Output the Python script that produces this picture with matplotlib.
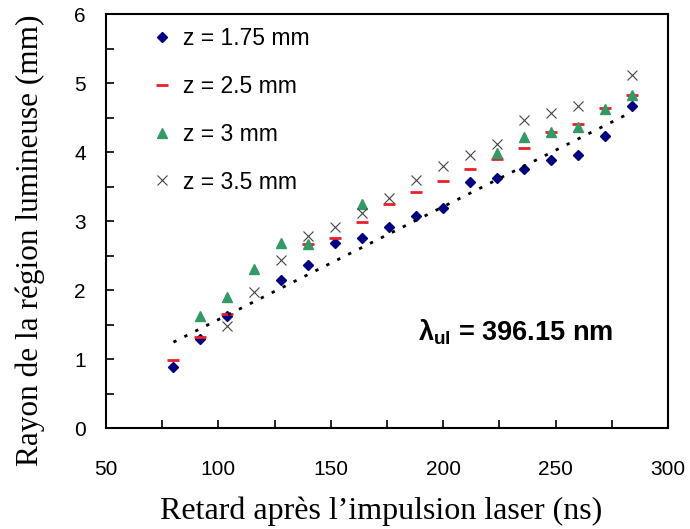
import numpy as np
import matplotlib
matplotlib.use("Agg")
import matplotlib.pyplot as plt
from matplotlib.ticker import MultipleLocator

# ---------------------------------------------------------
# data (nan = point not visible)
# ---------------------------------------------------------
nan = np.nan
delay_ns = [80, 92, 104, 116, 128, 140, 152, 164, 176, 188,
            200, 212, 224, 236, 248, 260, 272, 284]
r_z175 = [0.89, 1.29, 1.63, nan, 2.14, 2.36, 2.68, 2.76, 2.92, 3.07,
          3.19, 3.56, 3.62, 3.75, 3.89, 3.96, 4.23, 4.66]
r_z25 = [0.98, 1.32, 1.65, nan, nan, 2.66, 2.76, 2.98, 3.25, 3.42,
         3.58, 3.76, 3.90, 4.06, 4.29, 4.40, 4.64, 4.83]
r_z3 = [nan, 1.62, 1.90, 2.31, 2.68, 2.66, nan, 3.25, nan, nan,
        nan, nan, 3.98, 4.22, 4.29, 4.36, 4.63, 4.83]
r_z35 = [nan, nan, 1.48, 1.97, 2.43, 2.78, 2.92, 3.11, 3.33, 3.59,
         3.80, 3.95, 4.12, 4.47, 4.56, 4.66, nan, 5.11]
series_labels = ["z = 1.75 mm", "z = 2.5 mm", "z = 3 mm", "z = 3.5 mm"]
annotation = r"$\lambda_{ul}$ = 396.15 nm"

x = np.array(delay_ns, dtype=float)
y175 = np.array(r_z175)

# linear trend of the z = 1.75 mm series (dotted line)
ok = ~np.isnan(y175)
slope, icpt = np.polyfit(x[ok], y175[ok], 1)
x_fit = np.array([x[ok].min(), x[ok].max()])

# ---------------------------------------------------------
# figure
# ---------------------------------------------------------
plt.rcParams['font.family'] = ['Liberation Sans', 'DejaVu Sans']
plt.rcParams['mathtext.fontset'] = 'custom'
plt.rcParams['mathtext.rm'] = 'Liberation Sans:bold'
plt.rcParams['mathtext.it'] = 'Liberation Sans:bold'
plt.rcParams['mathtext.bf'] = 'Liberation Sans:bold'

fig = plt.figure(figsize=(6.9, 5.29), dpi=100)
ax = fig.add_axes([0.1536, 0.1909, 0.8145, 0.7826])

ax.plot(x, r_z175, ls='none', marker='D', ms=5.5, color='#000080', label=series_labels[0], zorder=3)
ax.plot(x, r_z25, ls='none', marker='_', ms=8, mew=2, color='#e8202a', label=series_labels[1], zorder=4)
ax.plot(x, r_z3, ls='none', marker='^', ms=7.5, color='#339966', label=series_labels[2], zorder=5)
ax.plot(x, r_z35, ls='none', marker='x', ms=7, mew=0.8, color='#444444', label=series_labels[3], zorder=6)
ax.plot(x_fit, slope * x_fit + icpt, color='black', lw=2, ls=(0, (1.2, 3.2)), zorder=4)

ax.set_xlim(50, 300)
ax.set_ylim(0, 6)
ax.xaxis.set_major_locator(MultipleLocator(50))
ax.xaxis.set_minor_locator(MultipleLocator(25))
ax.yaxis.set_major_locator(MultipleLocator(1))
ax.yaxis.set_minor_locator(MultipleLocator(0.5))
ax.tick_params(which='both', direction='in', length=6, width=1.2, top=False, right=False)
ax.tick_params(which='major', labelsize=15)
ax.tick_params(axis='x', which='major', pad=23)
ax.tick_params(axis='y', which='major', pad=14.5)
for s in ax.spines.values():
    s.set_linewidth(1.5)

ax.set_xlabel("Retard après l’impulsion laser (ns)", family='Liberation Serif', fontsize=23)
ax.xaxis.set_label_coords(0.489, -0.165)
ax.set_ylabel("Rayon de la région lumineuse (mm)", family='Liberation Serif', fontsize=22.5)
ax.yaxis.set_label_coords(-0.108, 0.454)

ax.legend(loc='upper left', bbox_to_anchor=(0.08, 0.968), frameon=False, numpoints=1,
          fontsize=16.5, handlelength=1.0, handletextpad=0.4, labelspacing=1.08,
          borderpad=0, borderaxespad=0)

ax.text(232, 1.39, annotation, fontsize=19.5, fontweight='bold', ha='center', va='center')

fig.savefig("out.png", dpi=100)
